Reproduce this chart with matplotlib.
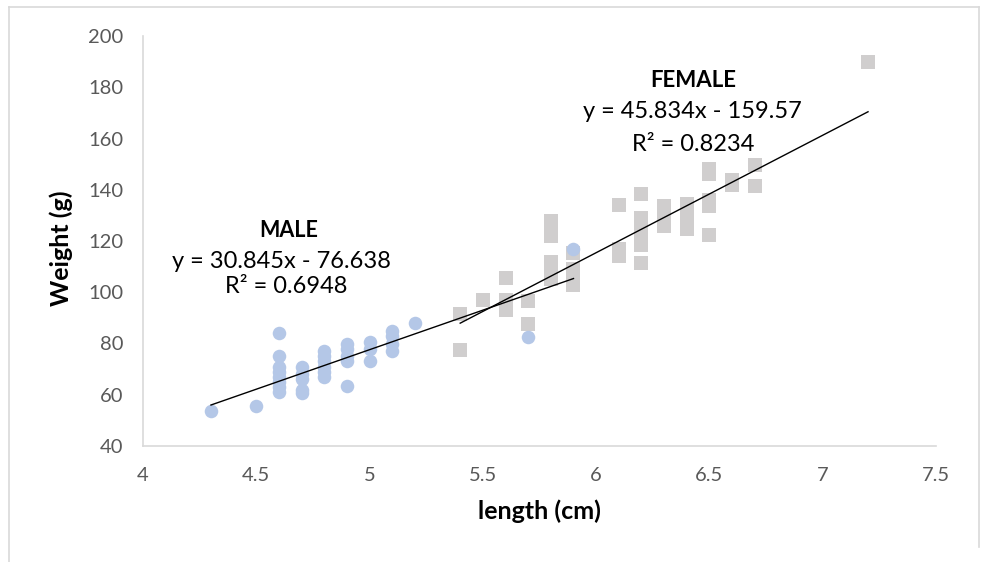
import matplotlib.pyplot as plt
from matplotlib.lines import Line2D
import numpy as np

plt.rcParams['font.family'] = ['Lato', 'DejaVu Sans']

# male fish (length cm, weight g)
male_x = [4.3, 4.5,
          4.6, 4.6, 4.6, 4.6, 4.6, 4.6, 4.6, 4.6,
          4.7, 4.7, 4.7, 4.7, 4.7,
          4.8, 4.8, 4.8, 4.8, 4.8, 4.8,
          4.9, 4.9, 4.9, 4.9, 4.9,
          5.0, 5.0, 5.0,
          5.1, 5.1, 5.1, 5.1,
          5.2, 5.7, 5.9]
male_y = [53.5, 55.5,
          84, 75, 71, 69, 67, 65, 63, 61,
          71, 68, 66, 62, 60.5,
          77, 75, 73, 71, 69, 67,
          80, 78, 75, 73, 63.5,
          80.5, 78, 73,
          85, 83, 80, 77,
          88, 82.5, 117]

# female fish
female_x = [5.4, 5.4, 5.5, 5.6, 5.6, 5.6, 5.7, 5.7,
            5.8, 5.8, 5.8, 5.8, 5.8, 5.8,
            5.9, 5.9, 5.9, 5.9,
            6.1, 6.1, 6.1,
            6.2, 6.2, 6.2, 6.2, 6.2, 6.2,
            6.3, 6.3, 6.3, 6.3,
            6.4, 6.4, 6.4, 6.4, 6.4,
            6.5, 6.5, 6.5, 6.5, 6.5,
            6.6, 6.6, 6.7, 6.7, 7.2]
female_y = [91.5, 77.5, 97, 105.5, 97, 93, 96.5, 87.5,
            128, 125, 122, 112, 108, 105,
            115.5, 109, 106, 103,
            134, 117, 114,
            138.5, 129, 126.5, 123.5, 118.5, 111.5,
            133.5, 131, 128.5, 126,
            134.5, 132, 129.5, 127, 124.5,
            148, 146, 136, 133.5, 122.5,
            144, 142, 149.5, 141.5, 190]

male_fit = (30.845, -76.638)
female_fit = (45.834, -159.57)

fig = plt.figure(figsize=(9.84, 5.62), dpi=100)
ax = fig.add_axes([143 / 984, 1 - 446 / 562, 793 / 984, 410 / 562])

ax.scatter(female_x, female_y, s=90, marker='s', color='#D0CECE', linewidths=0, zorder=2)
ax.scatter(male_x, male_y, s=95, marker='o', color='#B4C7E7', linewidths=0, zorder=3)

# trendlines
for xs, (m, b) in [(male_x, male_fit), (female_x, female_fit)]:
    lx = np.array([min(xs), max(xs)])
    ax.plot(lx, m * lx + b, color='black', lw=1, zorder=4)

ax.set_xlim(4, 7.5)
ax.set_ylim(40, 200)
ax.set_xticks(np.arange(4, 7.51, 0.5))
ax.set_xticklabels(['4', '4.5', '5', '5.5', '6', '6.5', '7', '7.5'])
ax.set_yticks(np.arange(40, 201, 20))

for s in ['top', 'right']:
    ax.spines[s].set_visible(False)
for s in ['left', 'bottom']:
    ax.spines[s].set_color('#D9D9D9')
    ax.spines[s].set_linewidth(1.2)
ax.tick_params(length=0, labelsize=14.5, colors='#595959')
ax.tick_params(axis='x', pad=15)
ax.tick_params(axis='y', pad=14)

ax.set_xlabel('length (cm)', fontsize=18, fontweight='bold')
ax.set_ylabel('Weight (g)', fontsize=18, fontweight='bold')
ax.xaxis.set_label_coords(0.5, -0.13)
ax.yaxis.set_label_coords(-0.088, 0.483)

ax.text(4.642, 121.6, 'MALE', fontsize=15.5, fontweight='bold', ha='center', va='baseline')
ax.text(4.613, 109.5, 'y = 30.845x - 76.638', fontsize=17, ha='center', va='baseline')
ax.text(4.633, 99.7, 'R² = 0.6948', fontsize=17, ha='center', va='baseline')
ax.text(6.429, 180.2, 'FEMALE', fontsize=16, fontweight='bold', ha='center', va='baseline')
ax.text(6.423, 167.9, 'y = 45.834x - 159.57', fontsize=17, ha='center', va='baseline')
ax.text(6.427, 155.2, 'R² = 0.8234', fontsize=17, ha='center', va='baseline')

# chart area border
bc = '#D9D9D9'
fig.add_artist(Line2D([9 / 984, 9 / 984], [0, 1 - 7 / 562], color=bc, lw=1.2))
fig.add_artist(Line2D([9 / 984, 979 / 984], [1 - 7 / 562, 1 - 7 / 562], color=bc, lw=1.2))
fig.add_artist(Line2D([979 / 984, 979 / 984], [1 - 547 / 562, 1 - 7 / 562], color=bc, lw=1.2))

fig.savefig('out.png', dpi=100)
